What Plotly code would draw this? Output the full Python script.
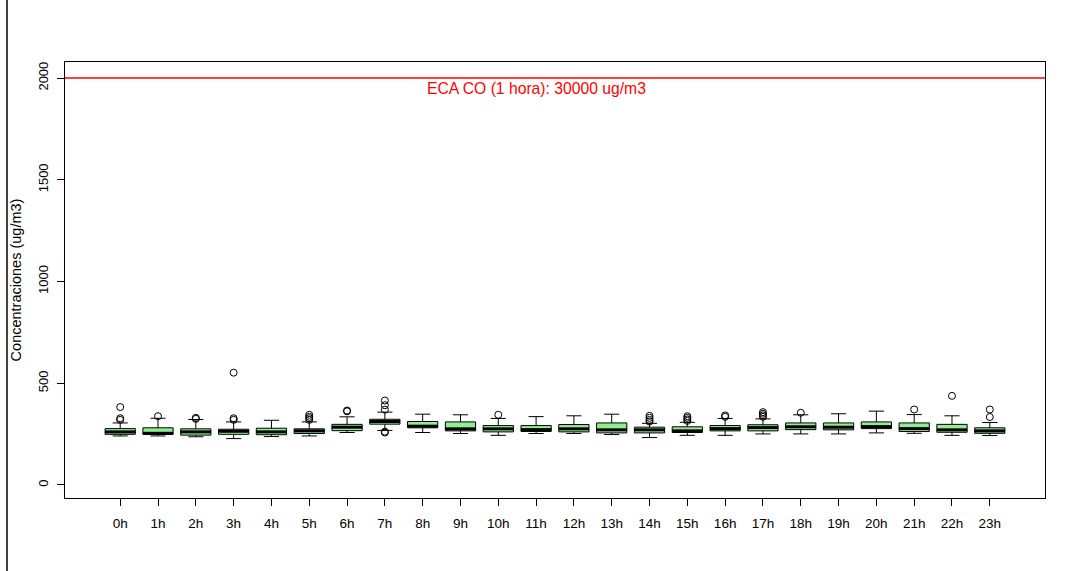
import plotly.graph_objects as go

hours = [f"{h}h" for h in range(24)]
q1 = [249, 249, 245, 249, 247, 253, 267, 299, 281, 266, 261, 263,
      261, 256, 256, 258, 266, 266, 272, 271, 277, 263, 259, 254]
median = [261, 254, 261, 264, 261, 266, 284, 312, 289, 276, 276, 272,
          276, 271, 271, 266, 277, 282, 286, 284, 287, 277, 271, 266]
q3 = [277, 281, 276, 274, 279, 276, 298, 323, 312, 310, 292, 292,
      297, 305, 284, 286, 292, 296, 305, 305, 310, 305, 298, 281]
lower = [241, 241, 237, 228, 238, 241, 258, 268, 258, 253, 244, 253,
         253, 248, 233, 244, 244, 251, 251, 251, 256, 254, 244, 243]
upper = [305, 328, 322, 310, 318, 310, 335, 358, 348, 345, 327, 336,
         340, 348, 303, 308, 327, 325, 345, 350, 363, 346, 340, 307]
outliers = [[320, 328, 383], [338], [325, 330], [320, 328, 552], [],
            [320, 328, 335, 345], [362, 366], [370, 392, 415, 262, 258],
            [], [], [345], [], [], [], [312, 320, 330, 340],
            [315, 322, 330, 338], [335, 342], [335, 342, 350, 358],
            [355], [], [], [371], [438], [334, 371]]
y_ticks = [0, 500, 1000, 1500, 2000]
limit_value = 2000
limit_label = "ECA CO (1 hora): 30000 ug/m3"
y_title = "Concentraciones (ug/m3)"

idx = list(range(len(hours)))
BOXW = 0.8

fig = go.Figure()
fig.add_trace(go.Box(
    x=idx, q1=q1, median=median, q3=q3, lowerfence=lower, upperfence=upper,
    fillcolor="#90EE90", line=dict(color="black", width=1),
    whiskerwidth=0.5, width=BOXW, boxpoints=False, hoverinfo="skip",
    showlegend=False))

mx, my = [], []
for i, m in zip(idx, median):
    mx += [i - BOXW / 2, i + BOXW / 2, None]
    my += [m, m, None]
fig.add_trace(go.Scatter(x=mx, y=my, mode="lines",
                         line=dict(color="black", width=3),
                         hoverinfo="skip", showlegend=False))

ox, oy = [], []
for i, vals in zip(idx, outliers):
    for v in vals:
        ox.append(i)
        oy.append(v)
fig.add_trace(go.Scatter(x=ox, y=oy, mode="markers",
                         marker=dict(symbol="circle-open", size=7,
                                     color="black", line=dict(width=1)),
                         hoverinfo="skip", showlegend=False))

fig.add_shape(type="line", xref="paper", yref="y", x0=0, x1=1,
              y0=limit_value, y1=limit_value,
              line=dict(color="red", width=1.5))
fig.add_annotation(x=11, y=limit_value - 50, xref="x", yref="y",
                   text=limit_label, showarrow=False,
                   font=dict(color="red", size=15.7, family="Liberation Sans, Arial"))

# outer frame line at left edge of the image
fig.add_shape(type="line", xref="paper", yref="paper",
              x0=-0.0592, x1=-0.0592, y0=-0.17, y1=1.15,
              line=dict(color="black", width=1.5))

fig.update_layout(
    width=1068, height=571,
    margin=dict(l=65, r=23, t=62, b=73),
    paper_bgcolor="white", plot_bgcolor="white",
    font=dict(family="Liberation Sans, Arial", color="black"),
    xaxis=dict(range=[-1.46, 24.46], tickmode="array", tickvals=idx,
               ticktext=hours, ticks="outside", ticklen=7, tickcolor="black",
               showline=True, linecolor="black", linewidth=1, mirror=True,
               showgrid=False, zeroline=False, tickfont=dict(size=13.5),
               ticklabelstandoff=6),
    yaxis=dict(range=[-64, 2079], tickmode="array", tickvals=y_ticks,
               ticks="outside", ticklen=7, tickcolor="black",
               showline=True, linecolor="black", linewidth=1, mirror=True,
               showgrid=False, zeroline=False, tickangle=-90,
               tickfont=dict(size=13), ticklabelstandoff=4,
               title=dict(text=y_title, font=dict(size=14.5), standoff=10)),
)

fig.write_html("out.html", config={"displayModeBar": False},
               post_script="document.body.style.margin='0px';document.body.style.padding='0px';")
